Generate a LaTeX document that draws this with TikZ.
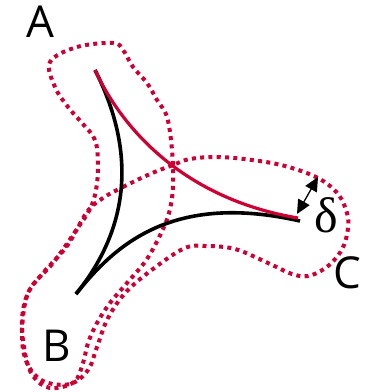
\documentclass[tikz,border=0pt]{standalone}
\usepackage{fontspec}
\setmainfont{Open Sans}
\newfontfamily\greekfont{Liberation Serif}
\usetikzlibrary{arrows.meta}
\definecolor{tubered}{RGB}{204,0,51}
\tikzset{
  side/.style={
    line width = 3.6pt,
    draw = black
  },
  geodesic/.style={
    line width = 3.2pt,
    draw = tubered
  },
  tube/.style={
    draw = tubered,
    line width = 4pt,
    dash pattern = on 4pt off 4.3pt
  },
  vertex/.style={
    font = \fontsize{44}{44}\selectfont,
    inner sep = 0pt
  },
  deltaarrow/.style={
    line width = 1.3pt,
    {Triangle[length=14pt,width=13pt]}-{Triangle[length=14pt,width=13pt]}
  }
}

\begin{document}
\begin{tikzpicture}[x=1pt,y=-1pt]
    \useasboundingbox (0,0) rectangle (370,392);

    % corners of the triangle
    \coordinate (A) at (95,70);
    \coordinate (B) at (76,294);
    \coordinate (C) at (300,221);

    % delta-neighbourhood of side AB
    \draw[tube] plot[smooth cycle, tension=0.6] coordinates {
        (50,62) (77,47) (113,43) (123,50) (133,67) (147,83) (157,100)
        (167,117) (172,150) (173,185) (170,209) (163,229) (147,259)
        (127,283) (110,303) (97,323) (88,343) (83,363) (74,382)
        (50,388) (33,376) (25,353) (22,319) (30,289) (53,263) (77,229)
        (90,209) (96,190) (98,165) (95,140) (82,123) (68,107) (55,87)
    };

    % delta-neighbourhood of side BC
    \draw[tube] plot[smooth cycle, tension=0.6] coordinates {
        (103,198) (123,187) (150,174) (173,165) (190,159) (218,157)
        (252,160) (285,166) (318,178) (338,194) (347,213) (348,228)
        (344,245) (336,258) (324,269) (308,276) (292,274) (268,263)
        (235,249) (205,246) (185,248) (157,266) (127,291) (108,318)
        (97,347) (88,370) (70,384) (43,381) (27,363) (22,335) (27,296)
        (43,273) (67,246) (87,212)
    };

    % the three sides
    \draw[side] (A) .. controls (128,135) and (140,215) .. (B);
    \draw[side] (B) .. controls (115,245) and (172,192) .. (C);
    \draw[geodesic] (A) .. controls (125,135) and (190,200) .. (298,218);

    \coordinate (dlow) at (297,214);
    \coordinate (dtop) at (318,177);
    \draw[deltaarrow] (dlow) -- (dtop);

    \node[inner sep=0pt, font=\greekfont\fontsize{50}{50}\selectfont] (labdelta) at (326,215) {δ};
    \node[vertex] (labA) at (40,22) {A};
    \node[vertex] (labB) at (57,346) {B};
    \node[vertex] (labC) at (347,273) {C};
\end{tikzpicture}
\end{document}
